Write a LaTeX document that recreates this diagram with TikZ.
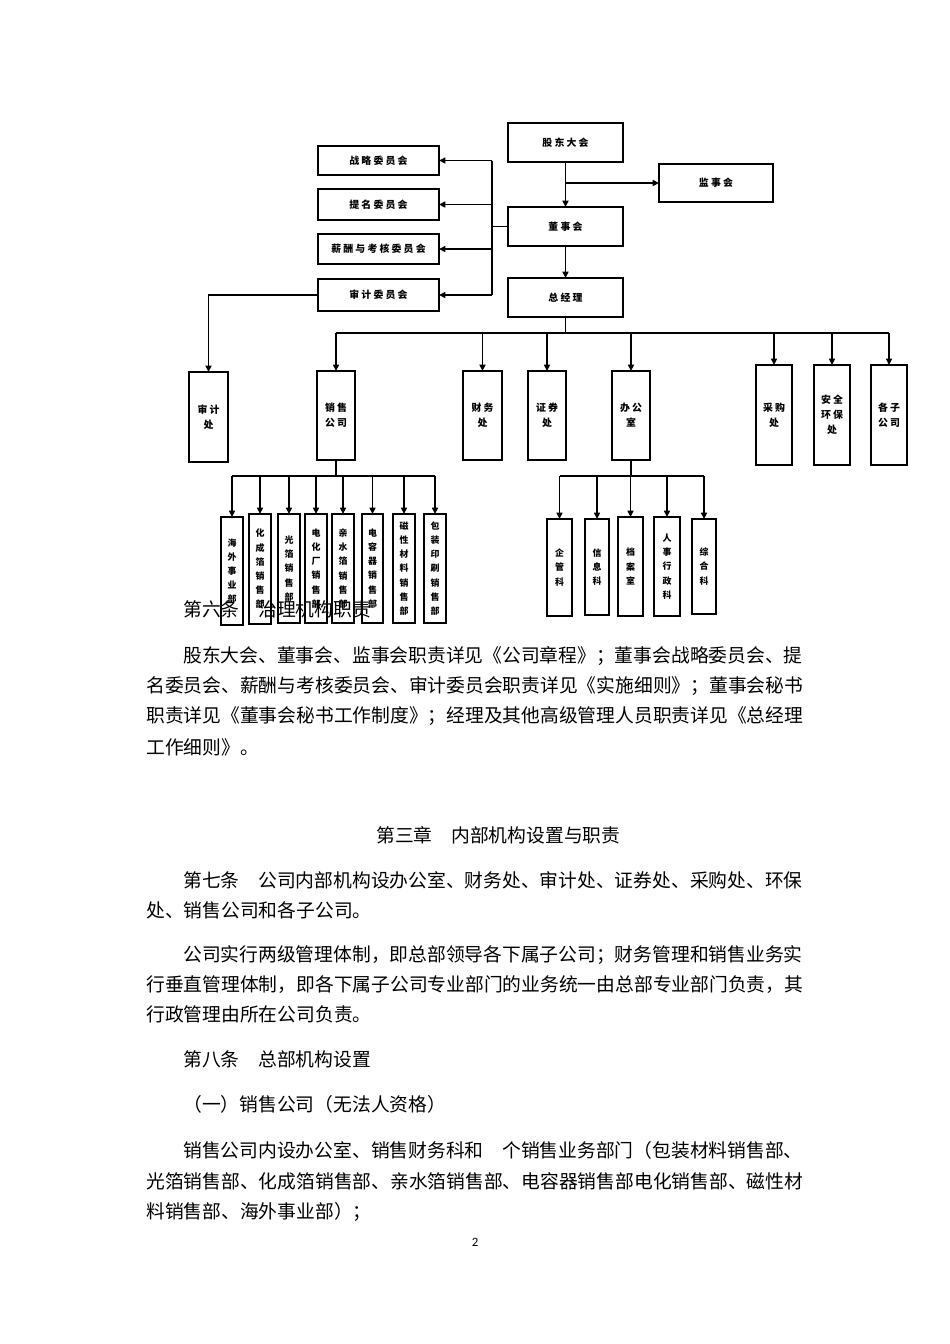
\documentclass[tikz,border=0pt]{standalone}
\usepackage{fontspec}
\setmainfont{Liberation Serif}
\newfontfamily\cjk{Noto Sans CJK SC}
\newfontfamily\cjkls[LetterSpace=22]{Noto Sans CJK SC}
\newfontfamily\pagefont{Carlito}
\usetikzlibrary{arrows.meta}
\newcommand\hf{\cjkls\bfseries\fontsize{6.2}{9.4}\selectfont}
\newcommand\vf{\cjk\bfseries\fontsize{5.6}{8.9}\selectfont}
\newcommand\bodyf{\cjk\fontsize{11.76}{14}\selectfont}
\newcommand\bx[7][\hf]{\node[boxst,font=#1,minimum width={(#5-#3)*0.6266pt},minimum height={(#6-#4)*0.6266pt}] (#2) at ({(#3+#5)/2},{(#4+#6)/2}) {#7};}
\begin{document}
\begin{tikzpicture}[x=0.6266pt,y=-0.6266pt,
  boxst/.style={draw,line width=0.8pt,inner sep=0pt,outer sep=0pt,align=center},
  ln/.style={line width=0.8pt},
  arr/.style={line width=0.8pt,-{Triangle[length=4pt,width=3.8pt]}},
  txt/.style={anchor=west,inner sep=0pt,font=\bodyf}]
\fill[white] (0,0) rectangle (950,1344);
\useasboundingbox (0,0) rectangle (950,1344);

% body text (drawn first; chart boxes overlap it)
\node[txt] (t0) at (183,609) {第六条　治理机构职责};
\node[txt] (t1) at (183,656) {股东大会、董事会、监事会职责详见《公司章程》；董事会战略委员会、提};
\node[txt] (t2) at (146,686) {名委员会、薪酬与考核委员会、审计委员会职责详见《实施细则》；董事会秘书};
\node[txt] (t3) at (146,716) {职责详见《董事会秘书工作制度》；经理及其他高级管理人员职责详见《总经理};
\node[txt] (t4) at (146,747) {工作细则》。};
\node[txt] (t5) at (376,835) {第三章　内部机构设置与职责};
\node[txt] (t6) at (183,880) {第七条　公司内部机构设办公室、财务处、审计处、证券处、采购处、环保};
\node[txt] (t7) at (146,910) {处、销售公司和各子公司。};
\node[txt] (t8) at (183,955) {公司实行两级管理体制，即总部领导各下属子公司；财务管理和销售业务实};
\node[txt] (t9) at (146,985) {行垂直管理体制，即各下属子公司专业部门的业务统一由总部专业部门负责，其};
\node[txt] (t10) at (146,1014) {行政管理由所在公司负责。};
\node[txt] (t11) at (183,1059) {第八条　总部机构设置};
\node[txt] (t12) at (183,1104) {（一）销售公司（无法人资格）};
\node[txt] (t13) at (183,1150) {销售公司内设办公室、销售财务科和　个销售业务部门（包装材料销售部、};
\node[txt] (t14) at (146,1181) {光箔销售部、化成箔销售部、亲水箔销售部、电容器销售部电化销售部、磁性材};
\node[txt] (t15) at (146,1212) {料销售部、海外事业部）；};
\node[inner sep=0pt,font=\pagefont\fontsize{8}{9}\selectfont] (pn) at (475,1242) {2};

% level 1
\bx{gd}{508}{123}{623}{162}{股东大会}
\bx{jsh}{659}{164}{773}{202}{监事会}
\bx{zl}{318}{146}{439}{175}{战略委员会}
\bx{tm}{318}{189}{439}{220}{提名委员会}
\bx{xc}{318}{234}{439}{264}{薪酬与考核委员会}
\bx{sjw}{318}{279}{439}{311}{审计委员会}
\bx{dsh}{508}{207}{623}{246}{董事会}
\bx{zjl}{508}{278}{623}{317}{总经理}

% level 2
\bx{sjc}{189}{372}{228}{462}{审计\\处}
\bx{xsg}{317}{371}{355}{460}{销售\\公司}
\bx{cw}{463}{371}{502}{460}{财务\\处}
\bx{zq}{528}{371}{566}{460}{证券\\处}
\bx{bgs}{612}{371}{650}{460}{办公\\室}
\bx{cg}{756}{365}{792}{465}{采购\\处}
\bx{aq}{814}{365}{850}{465}{安全\\环保\\处}
\bx{gz}{871}{365}{907}{465}{各子\\公司}

% sales sub-departments
\bx[\vf]{s1}{221}{517}{243}{625}{海\\外\\事\\业\\部}
\bx[\vf]{s2}{249}{514}{271}{624}{化\\成\\箔\\销\\售\\部}
\bx[\vf]{s3}{278}{514}{300}{623}{光\\箔\\销\\售\\部}
\bx[\vf]{s4}{305}{514}{327}{623}{电\\化\\厂\\销\\售\\部}
\bx[\vf]{s5}{332}{514}{354}{623}{亲\\水\\箔\\销\\售\\部}
\bx[\vf]{s6}{362}{514}{383}{623}{电\\容\\器\\销\\售\\部}
\bx[\vf]{s7}{393}{514}{415}{623}{磁\\性\\材\\料\\销\\售\\部}
\bx[\vf]{s8}{424}{514}{446}{623}{包\\装\\印\\刷\\销\\售\\部}

% office sub-departments
\bx[\vf]{o1}{547}{519}{572}{616}{企\\管\\科}
\bx[\vf]{o2}{585}{519}{609}{615}{信\\息\\科}
\bx[\vf]{o3}{618}{517}{643}{616}{档\\案\\室}
\bx[\vf]{o4}{654}{517}{680}{616}{人\\事\\行\\政\\科}
\bx[\vf]{o5}{692}{519}{716}{614}{综\\合\\科}

% connectors, top
\coordinate (cb) at (492,0);
\draw[arr] (gd.south) -- (dsh.north);
\draw[arr] (gd.south |- jsh.west) -- (jsh.west);
\draw[ln] (dsh.west) -- (dsh.west -| cb);
\draw[ln] (cb |- zl.east) -- (cb |- sjw.east);
\foreach \c in {zl,tm,xc,sjw} \draw[arr] (cb |- \c.east) -- (\c.east);
\draw[arr] (dsh.south) -- (zjl.north);
\draw[arr] (sjw.west) -| (sjc.north);

% general manager bus
\coordinate (gb) at (0,333);
\draw[ln] (zjl.south) -- (zjl.south |- gb);
\draw[ln] (xsg.north |- gb) -- (gz.north |- gb);
\foreach \c in {xsg,cw,zq,bgs,cg,aq,gz} \draw[arr] (\c.north |- gb) -- (\c.north);

% sales bus
\coordinate (sb) at (0,476);
\draw[ln] (xsg.south) -- (xsg.south |- sb);
\draw[ln] (s1.north |- sb) -- (s8.north |- sb);
\foreach \c in {s1,s2,s3,s4,s5,s6,s7,s8} \draw[arr] (\c.north |- sb) -- (\c.north);

% office bus
\draw[ln] (bgs.south) -- (bgs.south |- sb);
\draw[ln] (o1.north |- sb) -- (o5.north |- sb);
\foreach \c in {o1,o2,o3,o4,o5} \draw[arr] (\c.north |- sb) -- (\c.north);
\end{tikzpicture}
\end{document}
